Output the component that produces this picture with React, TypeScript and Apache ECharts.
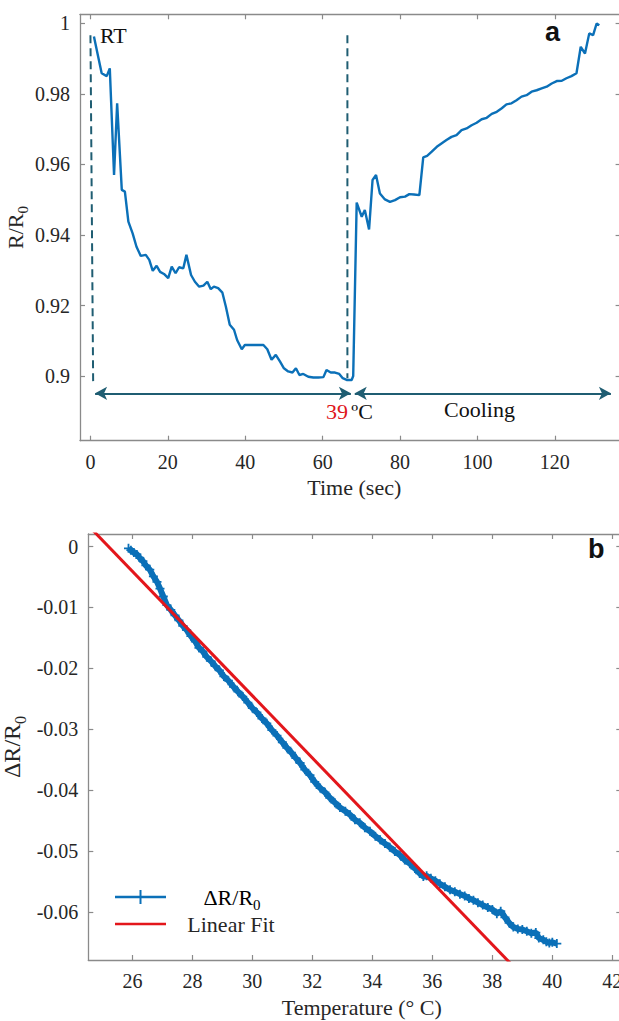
import React, { useEffect, useRef } from "react";
import * as echarts from "echarts";

// ---------- Panel a: R/R0 vs time ----------
const TIME = [
  0.9, 2.0, 2.9, 4.2, 5.0, 6.1, 6.9, 8.1, 8.9, 9.8, 10.9, 11.9, 13.0, 14.3, 15.2, 16.1, 17.1, 18.0, 19.0, 20.1,
  21.0, 22.0, 22.9, 24.0, 24.8, 26.0, 27.0, 28.1, 29.2, 30.2, 31.1, 31.9, 33.0, 34.1, 35.0, 36.0, 37.1, 37.9,
  39.1, 39.9, 41.2, 42.9, 44.7, 45.7, 46.8, 47.9, 49.0, 50.0, 51.1, 52.2, 53.1, 54.0, 55.0, 56.3, 57.6, 58.9,
  60.2, 61.0, 62.1, 63.2, 64.3, 65.2, 66.2, 67.5, 67.9, 68.8, 70.1, 70.9, 72.0, 72.9, 73.8, 74.8, 76.1, 77.4,
  78.7, 80.0, 81.3, 82.4, 83.6, 85.0, 86.0, 87.0, 88.2, 89.5, 90.8, 92.0, 93.3, 94.6, 95.9, 97.2, 98.5, 99.8,
  101.1, 102.4, 103.7, 105.0, 106.3, 107.5, 108.8, 110.1, 111.4, 112.7, 114.0, 115.3, 116.6, 117.9, 119.2,
  120.5, 121.8, 123.0, 124.3, 125.6, 126.7, 127.8, 128.9, 129.9, 130.8, 131.5,
];
const RATIO = [
  0.9962, 0.9905, 0.9858, 0.985, 0.9872, 0.957, 0.9773, 0.9528, 0.9523, 0.9438, 0.9405, 0.9367, 0.9341, 0.9344,
  0.933, 0.9299, 0.9313, 0.9296, 0.929, 0.9278, 0.9311, 0.9292, 0.9309, 0.9306, 0.9344, 0.9287, 0.9268, 0.9254,
  0.9257, 0.9268, 0.9247, 0.9254, 0.925, 0.9237, 0.9197, 0.9146, 0.9132, 0.9103, 0.9077, 0.9089, 0.9089, 0.9089,
  0.9089, 0.9077, 0.9047, 0.9061, 0.9042, 0.9023, 0.9014, 0.9011, 0.9023, 0.9004, 0.9007, 0.8999, 0.8997, 0.8997,
  0.8998, 0.9018, 0.9011, 0.9011, 0.9007, 0.8995, 0.899, 0.899, 0.9001, 0.9492, 0.9452, 0.9471, 0.9416, 0.9556,
  0.957, 0.9518, 0.9501, 0.9494, 0.9499, 0.9507, 0.9509, 0.9516, 0.9515, 0.9513, 0.962, 0.9624, 0.9636, 0.965,
  0.966, 0.9669, 0.9678, 0.9683, 0.9697, 0.9702, 0.9711, 0.9718, 0.9728, 0.9732, 0.9743, 0.9749, 0.9759, 0.977,
  0.9773, 0.9782, 0.9792, 0.9796, 0.9806, 0.981, 0.9815, 0.982, 0.9829, 0.9836, 0.9837, 0.9844, 0.985, 0.9858,
  0.9933, 0.9914, 0.9971, 0.9966, 0.9999, 0.9994,
];
const TIME_TICKS = [0, 20, 40, 60, 80, 100, 120];
const RATIO_TICKS = [0.9, 0.92, 0.94, 0.96, 0.98, 1];
const TIME_RANGE = [-2.7, 137];
const RATIO_RANGE = [0.8818, 1.0025];
// dashed markers: [xTop, yTop, xBottom, yBottom]
const RT_EDGE = [0, 0.9966, 0.7, 0.8982];
const HOT_EDGE = [66.4, 0.9966, 66.4, 0.8995];
// arrows: [xStart, xEnd]
const HEAT_ARROW = [1.2, 67.3];
const COOL_ARROW = [68.3, 134.5];
const ARROW_Y = 0.8952;

// ---------- Panel b: dR/R0 vs temperature ----------
const TEMP = [
  25.87, 25.95, 26.05, 26.15, 26.25, 26.35, 26.45, 26.58, 26.7, 26.82, 26.92, 27.03, 27.15, 27.28, 27.42, 27.55,
  27.68, 27.81, 27.95, 28.1, 28.22, 28.35, 28.48, 28.62, 28.76, 28.9, 29.05, 29.2, 29.37, 29.52, 29.68, 29.85, 30.0,
  30.15, 30.32, 30.48, 30.65, 30.82, 31.0, 31.15, 31.3, 31.45, 31.59, 31.75, 31.92, 32.08, 32.26, 32.42, 32.58,
  32.75, 32.92, 33.1, 33.26, 33.42, 33.58, 33.75, 33.92, 34.1, 34.26, 34.42, 34.58, 34.75, 34.92, 35.08, 35.25,
  35.42, 35.58, 35.7, 35.81, 35.95, 36.1, 36.25, 36.42, 36.59, 36.75, 36.92, 37.08, 37.22, 37.37, 37.52, 37.68,
  37.85, 38.0, 38.15, 38.28, 38.42, 38.56, 38.7, 38.85, 39.0, 39.15, 39.3, 39.45, 39.55, 39.7, 39.8, 39.9, 40.0,
  40.15,
];
const DELTA = [
  -0.0003, -0.0006, -0.001, -0.0013, -0.0019, -0.0024, -0.0031, -0.0038, -0.0049, -0.0058, -0.0069, -0.0082,
  -0.0096, -0.0104, -0.0113, -0.0121, -0.013, -0.0137, -0.0147, -0.0156, -0.0166, -0.0172, -0.0181, -0.0188,
  -0.0196, -0.0203, -0.0213, -0.022, -0.023, -0.0238, -0.0246, -0.0256, -0.0265, -0.0272, -0.0282, -0.029, -0.0301,
  -0.031, -0.0321, -0.033, -0.0338, -0.0347, -0.0355, -0.0366, -0.0375, -0.0386, -0.0396, -0.0403, -0.0412, -0.042,
  -0.0428, -0.0434, -0.044, -0.0448, -0.0453, -0.0461, -0.0467, -0.0475, -0.0481, -0.0487, -0.0493, -0.05, -0.0506,
  -0.0514, -0.052, -0.0528, -0.0536, -0.0541, -0.054, -0.0544, -0.0548, -0.0553, -0.0558, -0.0563, -0.0566, -0.057,
  -0.0573, -0.0577, -0.058, -0.0584, -0.0588, -0.0592, -0.0595, -0.0602, -0.0598, -0.0608, -0.0617, -0.0624,
  -0.0627, -0.0628, -0.0631, -0.0634, -0.0633, -0.0642, -0.0645, -0.0648, -0.065, -0.0649, -0.0651,
];
const TEMP_TICKS = [26, 28, 30, 32, 34, 36, 38, 40, 42];
const DELTA_TICKS = [-0.06, -0.05, -0.04, -0.03, -0.02, -0.01, 0];
const TEMP_RANGE = [24.53, 42.3];
const DELTA_RANGE = [-0.0678, 0.00205];
const FIT_SLOPE = -0.0051;
const FIT_INTERCEPT = 0.128531;
const FIT_X = [24.5, 38.8];

const SERIF = "Liberation Serif";
const BLUE = "#0b70b8";
const TEAL = "#1f5d72";
const RED = "#e3161b";
const AXIS_GRAY = "#8a8a8a";
const TXT = "#262626";
const PLUS = "path://M4,0 L6,0 L6,4 L10,4 L10,6 L6,6 L6,10 L4,10 L4,6 L0,6 L0,4 L4,4 Z";

const subRich = (size: number) => ({
  n: { fontSize: size, fontFamily: SERIF, color: TXT, lineHeight: size + 8 },
  s: { fontSize: Math.round(size * 0.66), fontFamily: SERIF, color: TXT, verticalAlign: "bottom", lineHeight: size + 8 },
});

const tickLabel = (ticks: number[]) => ({
  show: true,
  customValues: ticks,
  fontFamily: SERIF,
  fontSize: 20,
  color: TXT,
  formatter: (v: number) => `{t|${v}}`,
  rich: { t: { fontFamily: SERIF, fontSize: 20, color: TXT } },
});

function xAxisPair(gridIndex: number, range: number[], ticks: number[], name: string, gap: number, shift: number) {
  const base = {
    type: "value",
    gridIndex,
    min: range[0],
    max: range[1],
    splitLine: { show: false },
    axisLine: { show: true, onZero: false, lineStyle: { color: AXIS_GRAY, width: 1.3 } },
    axisTick: { show: true, inside: true, length: 5, customValues: ticks, lineStyle: { color: AXIS_GRAY, width: 1.2 } },
  };
  return [
    {
      ...base,
      position: "bottom",
      name,
      nameLocation: "middle",
      nameGap: gap,
      nameMoveOverlap: false,
      nameTextStyle: { fontFamily: SERIF, fontSize: 22, color: TXT, padding: [0, 0, 0, shift] },
      axisLabel: { ...tickLabel(ticks), margin: 11 },
    },
    { ...base, position: "top", axisLabel: { show: false } },
  ];
}

function yAxisPair(gridIndex: number, range: number[], ticks: number[], name: string, gap: number, nameSize: number) {
  const base = {
    type: "value",
    gridIndex,
    min: range[0],
    max: range[1],
    splitLine: { show: false },
    axisLine: { show: true, onZero: false, lineStyle: { color: AXIS_GRAY, width: 1.3 } },
    axisTick: { show: true, inside: true, length: 5, customValues: ticks, lineStyle: { color: AXIS_GRAY, width: 1.2 } },
  };
  return [
    {
      ...base,
      position: "left",
      name,
      nameLocation: "middle",
      nameRotate: 90,
      nameGap: gap,
      nameMoveOverlap: false,
      nameTextStyle: { rich: subRich(nameSize) },
      axisLabel: { ...tickLabel(ticks), margin: 10 },
    },
    { ...base, position: "right", axisLabel: { show: false } },
  ];
}

export default function App() {
  const ref = useRef<HTMLDivElement>(null);
  useEffect(() => {
    if (!ref.current) return;
    const chart = echarts.init(ref.current, undefined, { renderer: "svg" });
    const topData = TIME.map((t, i) => [t, RATIO[i]]);
    const botData = TEMP.map((t, i) => [t, DELTA[i]]);
    const fitData = FIT_X.map((x) => [x, FIT_INTERCEPT + FIT_SLOPE * x]);
    const dashStyle = { color: TEAL, width: 2, type: [8, 5] };

    chart.setOption({
      animation: false,
      backgroundColor: "#ffffff",
      textStyle: { fontFamily: SERIF },
      grid: [
        { left: 80, top: 14.3, width: 540.6, height: 426.4, outerBoundsMode: "none", containLabel: false },
        { left: 88.3, top: 534, width: 533, height: 426, outerBoundsMode: "none", containLabel: false },
      ],
      xAxis: [
        ...xAxisPair(0, TIME_RANGE, TIME_TICKS, "Time (sec)", 36, 8),
        ...xAxisPair(1, TEMP_RANGE, TEMP_TICKS, "Temperature (° C)", 36, 14),
      ],
      yAxis: [
        ...yAxisPair(0, RATIO_RANGE, RATIO_TICKS, "{n|R/R}{s|0}", 50, 22),
        ...yAxisPair(1, DELTA_RANGE, DELTA_TICKS, "{n|ΔR/R}{s|0}", 60, 24),
      ],
      series: [
        {
          name: "R/R0",
          type: "line",
          xAxisIndex: 0,
          yAxisIndex: 0,
          data: topData,
          showSymbol: false,
          symbol: "none",
          lineStyle: { color: BLUE, width: 2.4 },
          z: 3,
        },
        {
          name: "RT edge",
          type: "line",
          xAxisIndex: 0,
          yAxisIndex: 0,
          data: [
            [RT_EDGE[0], RT_EDGE[1]],
            [RT_EDGE[2], RT_EDGE[3]],
          ],
          symbol: "none",
          lineStyle: dashStyle,
          markLine: {
            silent: true,
            symbol: ["arrow", "arrow"],
            symbolSize: [10, 12],
            label: { show: false },
            lineStyle: { color: TEAL, width: 2, type: "solid" },
            data: [
              [{ coord: [HEAT_ARROW[0], ARROW_Y] }, { coord: [HEAT_ARROW[1], ARROW_Y] }],
              [{ coord: [COOL_ARROW[0], ARROW_Y] }, { coord: [COOL_ARROW[1], ARROW_Y] }],
            ],
          },
        },
        {
          name: "Hot edge",
          type: "line",
          xAxisIndex: 0,
          yAxisIndex: 0,
          data: [
            [HOT_EDGE[0], HOT_EDGE[1]],
            [HOT_EDGE[2], HOT_EDGE[3]],
          ],
          symbol: "none",
          lineStyle: dashStyle,
        },
        {
          name: "ΔR/R0",
          type: "line",
          xAxisIndex: 2,
          yAxisIndex: 2,
          data: botData,
          symbol: PLUS,
          symbolSize: 9,
          showSymbol: true,
          itemStyle: { color: BLUE },
          lineStyle: { color: BLUE, width: 6 },
          z: 3,
        },
        {
          name: "Linear Fit",
          type: "line",
          xAxisIndex: 2,
          yAxisIndex: 2,
          data: fitData,
          symbol: "none",
          clip: true,
          lineStyle: { color: RED, width: 3 },
          z: 4,
        },
      ],
      graphic: [
        { type: "text", left: 100, top: 24, style: { text: "RT", fontFamily: SERIF, fontSize: 22, fill: "#111" } },
        {
          type: "text",
          left: 545,
          top: 18,
          style: { text: "a", fontFamily: "Liberation Sans", fontWeight: "bold", fontSize: 27, fill: "#111" },
        },
        {
          type: "text",
          left: 326,
          top: 400,
          style: {
            text: "{r|39} {k|ºC}",
            rich: {
              r: { fontFamily: SERIF, fontSize: 22, fill: "#e0161b" },
              k: { fontFamily: SERIF, fontSize: 22, fill: "#111" },
            },
          },
        },
        { type: "text", left: 444, top: 398, style: { text: "Cooling", fontFamily: SERIF, fontSize: 22, fill: "#111" } },
        {
          type: "text",
          left: 588,
          top: 535,
          style: { text: "b", fontFamily: "Liberation Sans", fontWeight: "bold", fontSize: 27, fill: "#111" },
        },
        // legend
        { type: "line", shape: { x1: 115, y1: 897, x2: 166, y2: 897 }, style: { stroke: BLUE, lineWidth: 2.5 } },
        { type: "line", shape: { x1: 140.5, y1: 890, x2: 140.5, y2: 904 }, style: { stroke: BLUE, lineWidth: 2 } },
        { type: "line", shape: { x1: 115, y1: 924, x2: 166, y2: 924 }, style: { stroke: RED, lineWidth: 2.5 } },
        {
          type: "text",
          x: 232,
          y: 897,
          style: {
            text: "{n|ΔR/R}{s|0}",
            align: "center",
            verticalAlign: "middle",
            rich: subRich(22),
          },
        },
        {
          type: "text",
          x: 231,
          y: 924,
          style: { text: "Linear Fit", align: "center", verticalAlign: "middle", fontFamily: SERIF, fontSize: 22, fill: TXT },
        },
      ],
    });
    return () => chart.dispose();
  }, []);

  return (
    <div style={{ position: "absolute", left: 0, top: 0, width: 619, height: 1021, overflow: "hidden", background: "#fff" }}>
      <div ref={ref} style={{ width: 630, height: 1021 }} />
    </div>
  );
}
